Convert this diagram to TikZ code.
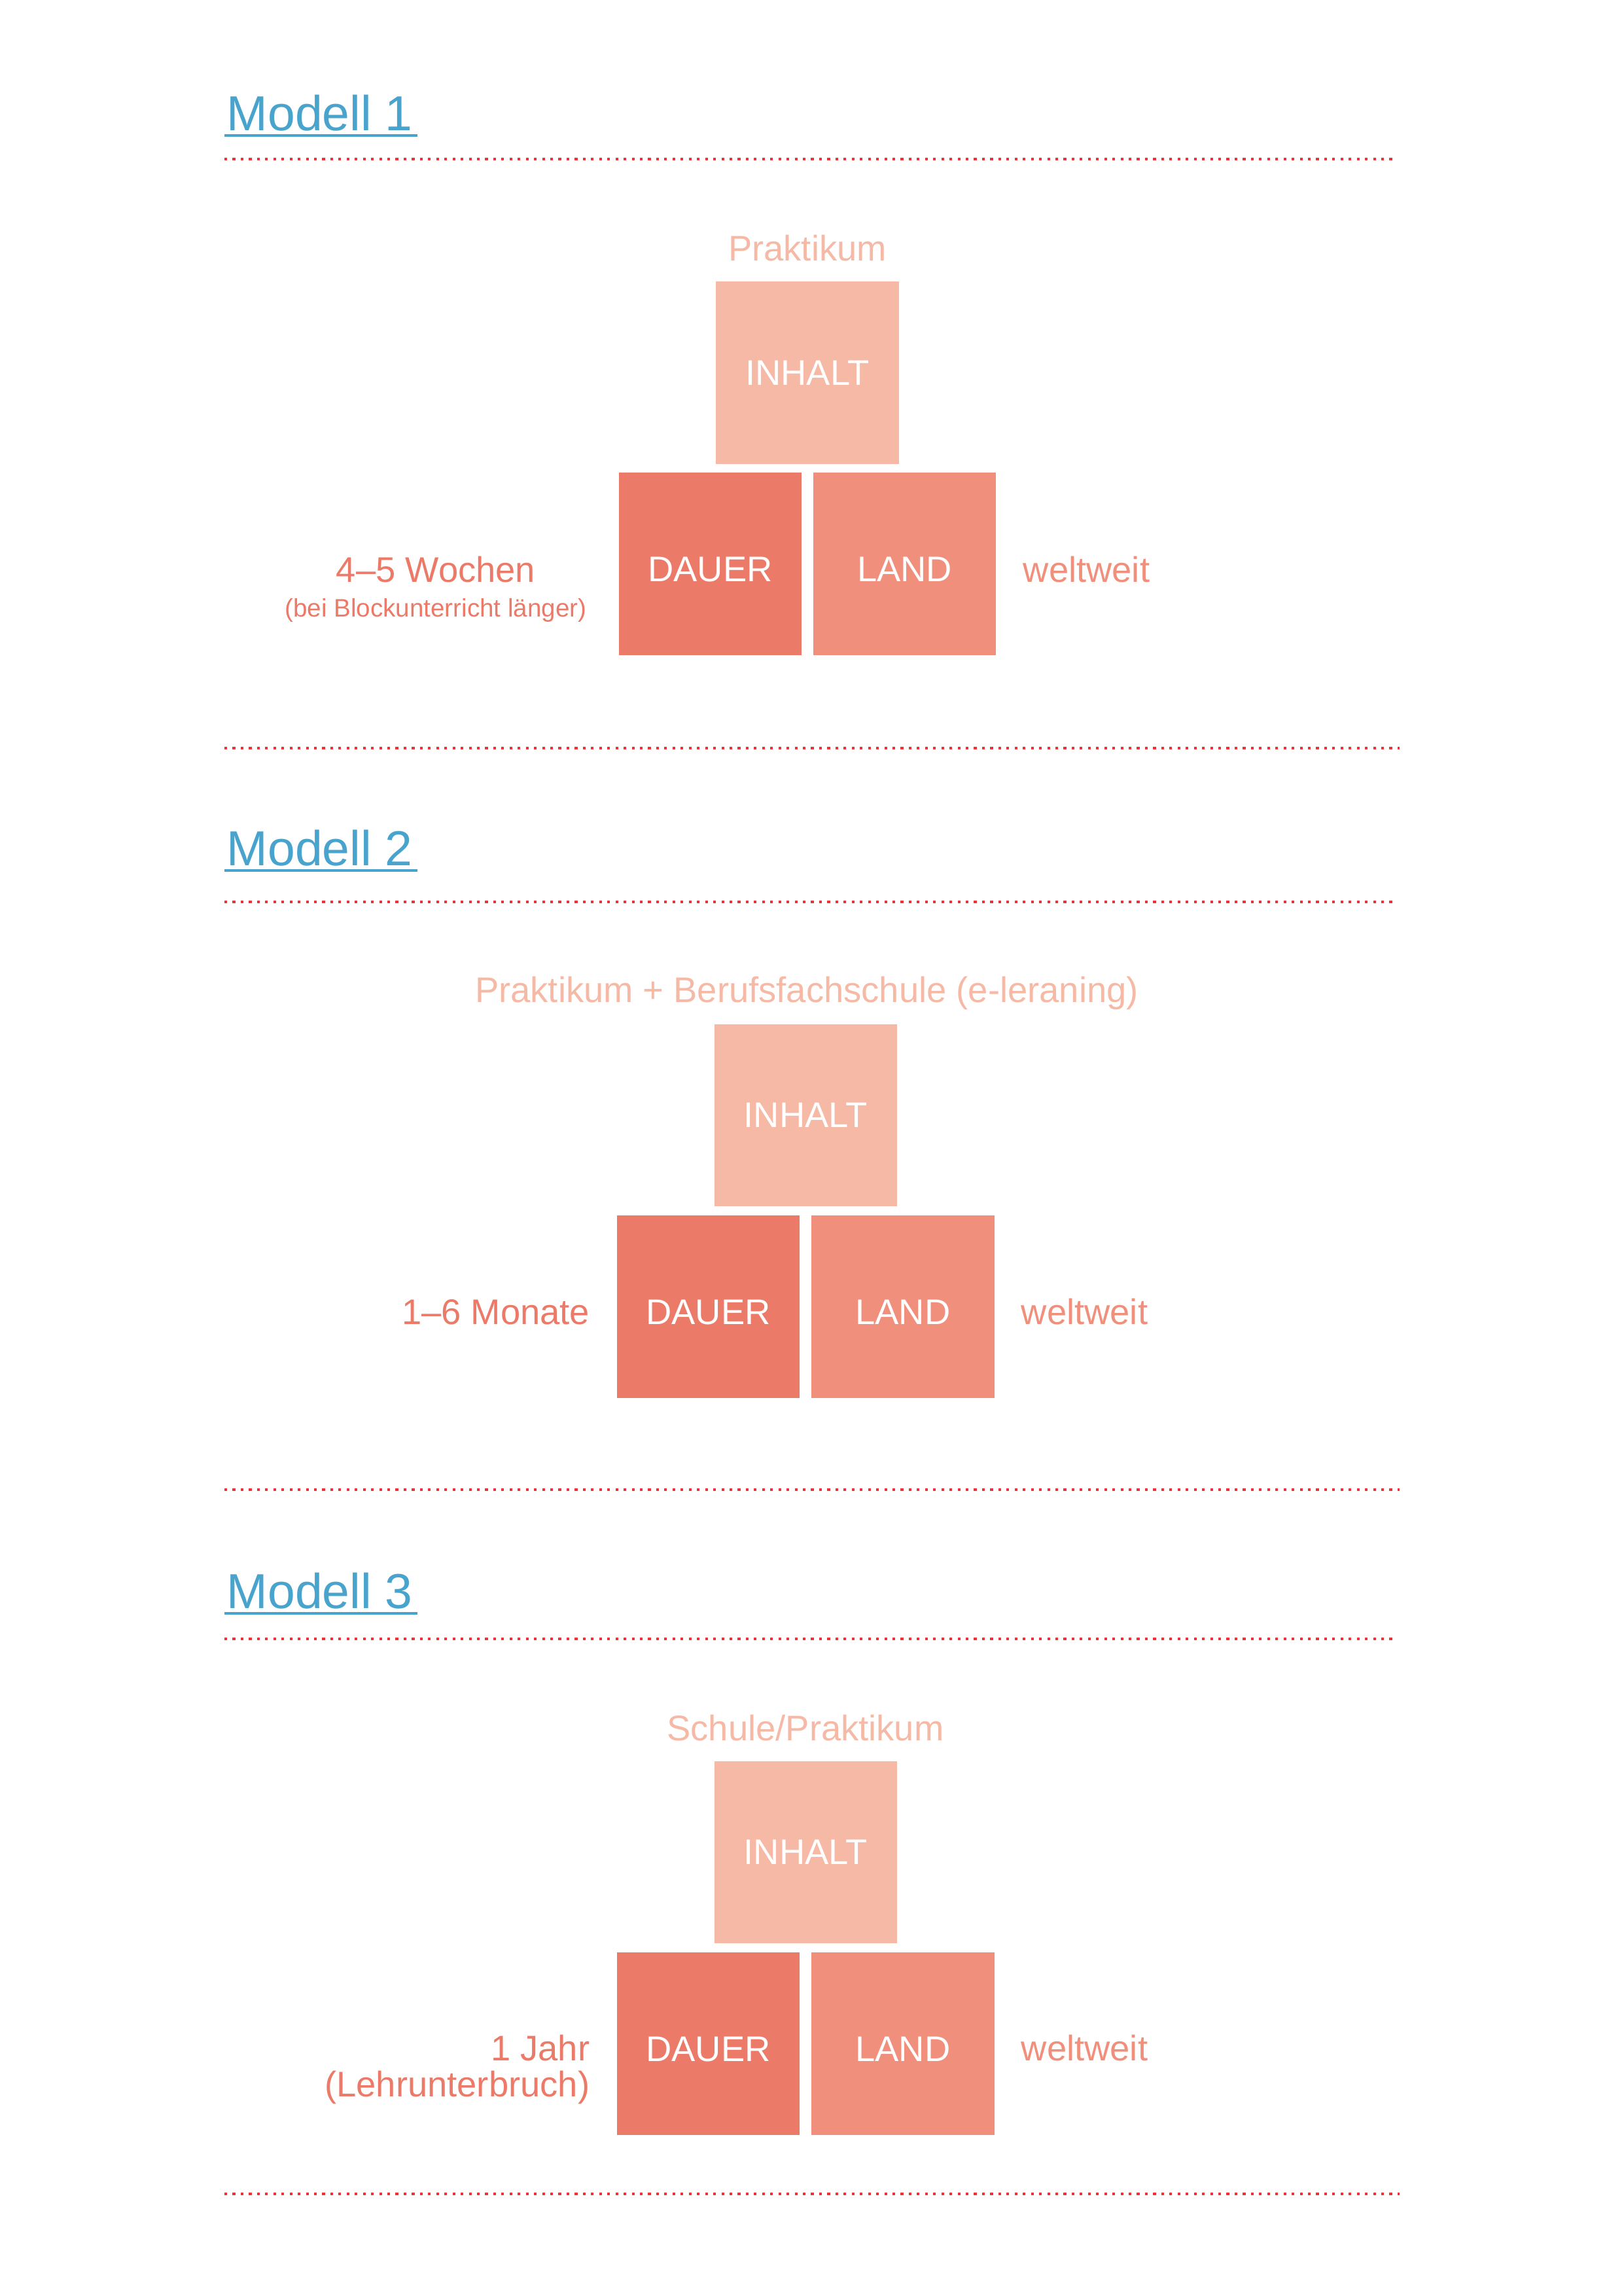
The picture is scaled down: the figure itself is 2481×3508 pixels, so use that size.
\documentclass[tikz,border=0pt]{standalone}
\usepackage{fontspec}
\setmainfont{Liberation Sans}
\usepackage{tikz}
\usetikzlibrary{calc}
\usetikzlibrary{positioning}
\definecolor{titleblue}{HTML}{48A3CD}
\definecolor{dotred}{HTML}{E8333B}
\definecolor{inhaltcol}{HTML}{F5B9A6}
\definecolor{dauercol}{HTML}{EB7A68}
\definecolor{landcol}{HTML}{F0907C}
\tikzset{blk/.style={minimum width=67.4pt,minimum height=67.2pt,inner sep=0pt,text=white,font=\fontsize{13.1}{16}\selectfont}}
\tikzset{low/.style={text height=13.2pt,text depth=0pt}}
\tikzset{txt/.style={inner sep=0pt,font=\fontsize{13.1}{16}\selectfont}}

\begin{document}
\begin{tikzpicture}[x=0.0084667cm, y=-0.0084667cm]
\tikzstyle{rule} = [dotred, line width=1pt, dash pattern=on 1pt off 2pt]
\tikzstyle{title} = [inner sep=0pt, anchor=base west, text=titleblue, font=\fontsize{18.1}{22}\selectfont]
\tikzstyle{uline} = [titleblue, line width=0.85pt]
\fill[white] (0,0) rectangle (2481,3508);
\useasboundingbox (0,0) rectangle (2481,3508);

% Modell 1
\node[title](m1) at (346, 199){Modell 1};
\draw[uline] ($(m1.base west)+(-3,8)$) -- ($(m1.base east)+(6,8)$);
\coordinate (A) at (343, 243);
\coordinate (B) at (2130, 243);
\draw[rule] (A) -- (B);
\node[txt, anchor=base, text=inhaltcol](lab1) at (1234, 398){Praktikum};
\node[blk, fill=inhaltcol](inh1) at (1234, 569.5){INHALT};
\node[blk, low, fill=dauercol](dau1) at (1085.5, 861.5){DAUER};
\node[blk, low, fill=landcol](lan1) at (1382.5, 861.5){LAND};
\node[txt, anchor=base, text=dauercol](dur1) at (666, 889){4–5 Wochen};
\node[txt, anchor=base, text=dauercol, font=\fontsize{9.3}{11}\selectfont](dur1b) at (666, 942){(bei Blockunterricht länger)};
\node[txt, anchor=base west, text=landcol](welt1) at (1563, 889){weltweit};
\coordinate (A) at (343, 1143);
\coordinate (B) at (2139, 1143);
\draw[rule] (A) -- (B);

% Modell 2
\node[title](m2) at (346, 1322){Modell 2};
\draw[uline] ($(m2.base west)+(-3,8)$) -- ($(m2.base east)+(6,8)$);
\coordinate (A) at (343, 1378);
\coordinate (B) at (2130, 1378);
\draw[rule] (A) -- (B);
\node[txt, anchor=base, text=inhaltcol](lab2) at (1233, 1531){Praktikum + Berufsfachschule (e-leraning)};
\node[blk, fill=inhaltcol](inh2) at (1231.5, 1704){INHALT};
\node[blk, low, fill=dauercol](dau2) at (1082.5, 1996.5){DAUER};
\node[blk, low, fill=landcol](lan2) at (1380, 1996.5){LAND};
\node[txt, anchor=base east, text=dauercol](dur2) at (902, 2023){1–6 Monate};
\node[txt, anchor=base west, text=landcol](welt2) at (1560, 2023){weltweit};
\coordinate (A) at (343, 2276);
\coordinate (B) at (2139, 2276);
\draw[rule] (A) -- (B);

% Modell 3
\node[title](m3) at (346, 2457){Modell 3};
\draw[uline] ($(m3.base west)+(-3,8)$) -- ($(m3.base east)+(6,8)$);
\coordinate (A) at (343, 2504);
\coordinate (B) at (2130, 2504);
\draw[rule] (A) -- (B);
\node[txt, anchor=base, text=inhaltcol](lab3) at (1231, 2659){Schule/Praktikum};
\node[blk, fill=inhaltcol](inh3) at (1231.5, 2830){INHALT};
\node[blk, low, fill=dauercol](dau3) at (1082.5, 3122.5){DAUER};
\node[blk, low, fill=landcol](lan3) at (1380, 3122.5){LAND};
\node[txt, anchor=base east, text=dauercol](dur3) at (902, 3148){1 Jahr};
\node[txt, anchor=base east, text=dauercol](dur3b) at (902, 3203){(Lehrunterbruch)};
\node[txt, anchor=base west, text=landcol](welt3) at (1560, 3148){weltweit};
\coordinate (A) at (343, 3352);
\coordinate (B) at (2139, 3352);
\draw[rule] (A) -- (B);
\end{tikzpicture}
\end{document}
